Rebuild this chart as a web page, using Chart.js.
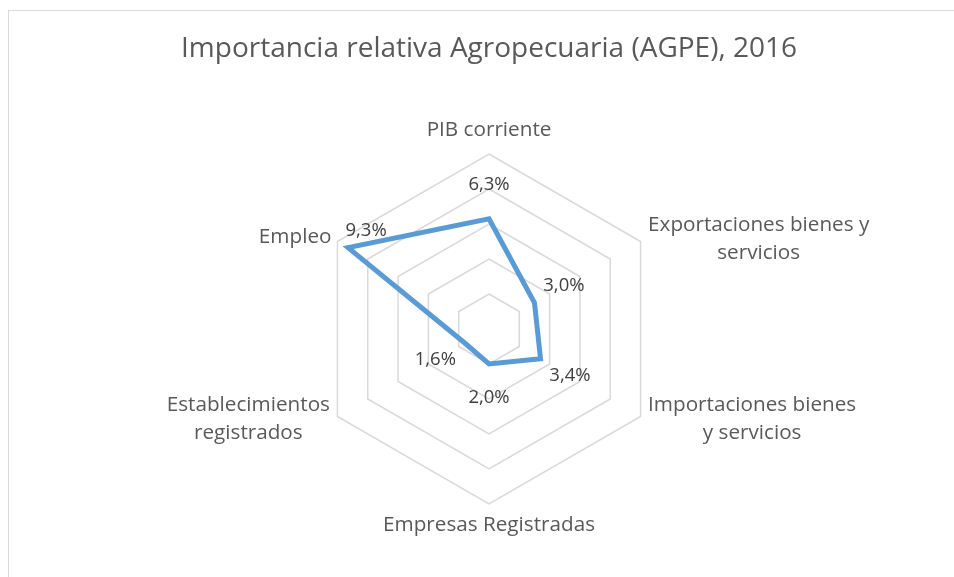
<!DOCTYPE html>
<html lang="es">
<head>
<meta charset="UTF-8">
<title>Importancia relativa Agropecuaria (AGPE), 2016</title>
<script src="https://cdn.jsdelivr.net/npm/chart.js@4"></script>
<style>
  html, body { margin: 0; padding: 0; background: #fff; overflow: hidden; }
  .frame {
    position: absolute; left: 8px; top: 10px;
    width: 1000px; height: 700px;
    border: 1px solid #d9d9d9;
  }
  .wrap { position: absolute; left: 0; top: 0; width: 954px; height: 577px; }
</style>
</head>
<body>
<div class="frame"></div>
<div class="wrap"><canvas id="radar" width="954" height="577"></canvas></div>
<script>
// data
const titleText = 'Importancia relativa Agropecuaria (AGPE), 2016';
const categories = [
  'PIB corriente',
  ['Exportaciones bienes y', 'servicios'],
  ['Importaciones bienes', 'y servicios'],
  'Empresas Registradas',
  ['Establecimientos', 'registrados'],
  'Empleo'
];
const values = [6.3, 3.0, 3.4, 2.0, 1.6, 9.3];
const scaleMin = 0;
const scaleMax = 10;
const scaleStep = 2;

const FONT = "'Open Sans', sans-serif";

// where each category label sits next to its outer vertex
const catLabelPos = [
  { align: 'center', dx: 0,    dy: -24 },
  { align: 'left',   dx: 7.5,  dy: -2 },
  { align: 'left',   dx: 7.5,  dy: 3 },
  { align: 'center', dx: 0,    dy: 21 },
  { align: 'right',  dx: -7.5, dy: 2.5 },
  { align: 'right',  dx: -6,   dy: -4.5 }
];
// value labels: pushed out along the spoke, Empleo moved by hand like Excel does
const valueLabelGap = 34;
const valueLabelShift = { 5: { dx: 18, dy: -17 } };

const labelsPlugin = {
  id: 'radarLabels',
  afterDatasetsDraw(chart) {
    const ctx = chart.ctx;
    const scale = chart.scales.r;
    const meta = chart.getDatasetMeta(0);
    ctx.save();
    ctx.textAlign = 'center';
    ctx.textBaseline = 'middle';

    // title (drawn here so it is not squeezed into the narrow plot width)
    ctx.font = '28px ' + FONT;
    ctx.fillStyle = '#595959';
    ctx.fillText(titleText, scale.xCenter, 49);

    // category labels
    ctx.font = '20.7px ' + FONT;
    ctx.fillStyle = '#595959';
    categories.forEach((cat, i) => {
      const lines = Array.isArray(cat) ? cat : [cat];
      const v = scale.getPointPosition(i, scale.drawingArea);
      const p = catLabelPos[i];
      const w = Math.max(...lines.map(l => ctx.measureText(l).width));
      let cx = v.x + p.dx;
      if (p.align === 'left') cx += w / 2;
      if (p.align === 'right') cx -= w / 2;
      const cy = v.y + p.dy;
      const lh = 28;
      lines.forEach((l, k) => {
        ctx.fillText(l, cx, cy + (k - (lines.length - 1) / 2) * lh);
      });
    });

    // value labels
    ctx.font = '18.5px ' + FONT;
    ctx.fillStyle = '#404040';
    meta.data.forEach((pt, i) => {
      const txt = values[i].toFixed(1).replace('.', ',') + '%';
      let x, y;
      if (valueLabelShift[i]) {
        x = pt.x + valueLabelShift[i].dx;
        y = pt.y + valueLabelShift[i].dy;
      } else {
        const d = scale.getDistanceFromCenterForValue(values[i]) + valueLabelGap;
        const q = scale.getPointPosition(i, d);
        x = q.x; y = q.y;
      }
      ctx.fillText(txt, x, y);
    });
    ctx.restore();
  }
};

new Chart(document.getElementById('radar'), {
  type: 'radar',
  data: {
    labels: categories,
    datasets: [{
      label: 'AGPE',
      data: values,
      borderColor: '#5b9bd5',
      borderWidth: 5,
      backgroundColor: 'rgba(0,0,0,0)',
      fill: false,
      pointRadius: 0,
      pointHoverRadius: 0,
      tension: 0
    }]
  },
  options: {
    responsive: false,
    animation: false,
    layout: { padding: { left: 314, right: 290, top: 154, bottom: 73 } },
    plugins: {
      legend: { display: false },
      tooltip: { enabled: false },
      title: { display: false }
    },
    scales: {
      r: {
        min: scaleMin,
        max: scaleMax,
        ticks: { display: false, stepSize: scaleStep },
        grid: { color: '#d9d9d9', lineWidth: 1.5, circular: false },
        angleLines: { display: false },
        pointLabels: { display: false }
      }
    }
  },
  plugins: [labelsPlugin]
});
</script>
</body>
</html>
